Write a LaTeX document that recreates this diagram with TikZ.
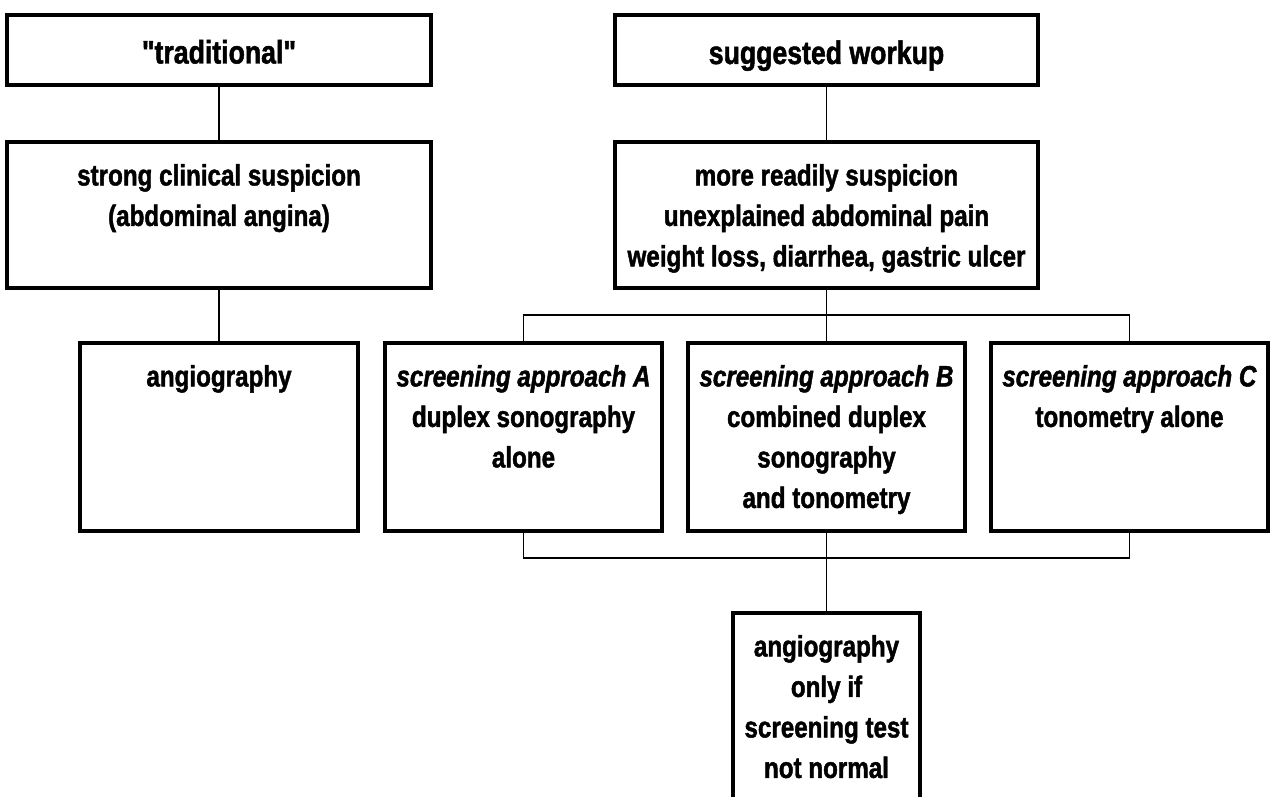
\documentclass[tikz,border=0pt]{standalone}
\usepackage{fontspec}
\setmainfont{Liberation Sans}[FakeStretch=0.82, Ligatures=TeXOff, BoldFeatures={FakeBold=1.5}, BoldItalicFeatures={FakeBold=1.5}]
\begin{document}
\begin{tikzpicture}[x=1pt,y=-1pt,
  box/.style={draw, line width=3.5pt, inner sep=0pt},
  conn/.style={line width=1.8pt},
  body/.style={anchor=north, inner sep=0pt, align=center, font=\bfseries\fontsize{29.5}{40.5}\selectfont},
  title/.style={anchor=base, inner sep=0pt, font=\bfseries\fontsize{32.5}{40}\selectfont}]
\clip (0,0) rectangle (1270,797);
% boxes
\node[box, minimum width=424pt, minimum height=70pt] (trad) at (219,50) {};
\node[box, minimum width=424pt, minimum height=146pt] (strong) at (219,215) {};
\node[box, minimum width=278pt, minimum height=188pt] (angio) at (219,437) {};
\node[box, minimum width=423pt, minimum height=70pt] (sugg) at (826.5,50) {};
\node[box, minimum width=423pt, minimum height=146pt] (more) at (826.5,215) {};
\node[box, minimum width=277pt, minimum height=188pt] (A) at (523.5,437) {};
\node[box, minimum width=277pt, minimum height=188pt] (B) at (826.5,437) {};
\node[box, minimum width=277pt, minimum height=188pt] (C) at (1129.5,437) {};
\node[box, minimum width=187pt, minimum height=260pt] (final) at (826.5,743) {};
% texts
\node[title] (tradT) at (219,63.5) {"traditional"};
\node[title] (suggT) at (826.5,64) {suggested workup};
\node[body] (strongT) at ([yshift=-20pt]strong.north) {\rule{0pt}{25pt}strong clinical suspicion\\(abdominal angina)};
\node[body] (moreT) at ([yshift=-20pt]more.north) {\rule{0pt}{25pt}more readily suspicion\\unexplained abdominal pain\\weight loss, diarrhea, gastric ulcer};
\node[body] (angioT) at ([yshift=-20pt]angio.north) {\rule{0pt}{25pt}angiography};
\node[body] (AT) at ([yshift=-20pt]A.north) {\rule{0pt}{25pt}\textit{screening approach A}\\duplex sonography\\alone};
\node[body] (BT) at ([yshift=-20pt]B.north) {\rule{0pt}{25pt}\textit{screening approach B}\\combined duplex\\sonography\\and tonometry};
\node[body] (CT) at ([yshift=-20pt]C.north) {\rule{0pt}{25pt}\textit{screening approach C}\\tonometry alone};
\node[body] (finalT) at ([yshift=-20pt]final.north) {\rule{0pt}{25pt}angiography\\only if\\screening test\\not normal};
% connectors
\coordinate (busT) at (826.5,315);
\coordinate (busB) at (826.5,558);
\draw[conn] (trad.south) -- (strong.north);
\draw[conn] (strong.south) -- (angio.north);
\draw[conn] (sugg.south) -- (more.north);
\draw[conn] (more.south) -- (B.north);
\draw[conn] (A.north) |- (busT) -| (C.north);
\draw[conn] (A.south) |- (busB) -| (C.south);
\draw[conn] (B.south) -- (final.north);
\end{tikzpicture}
\end{document}
